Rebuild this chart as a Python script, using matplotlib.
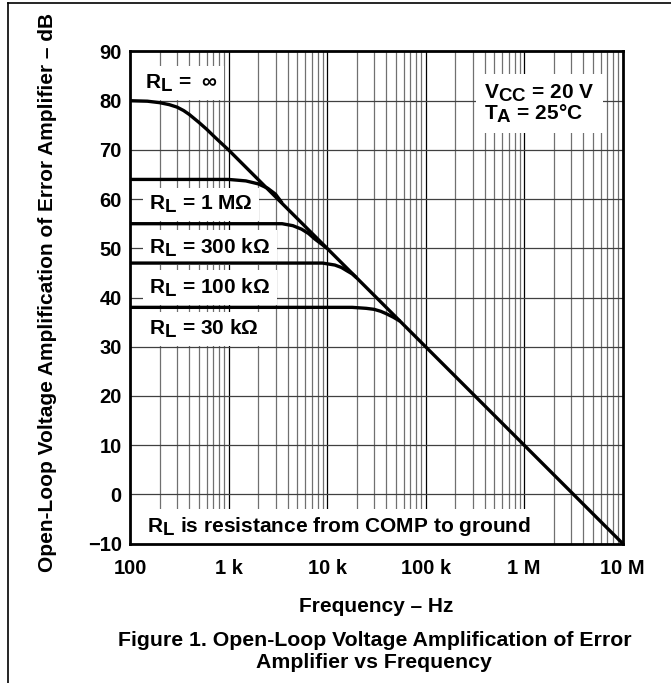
import matplotlib.pyplot as plt
import matplotlib._mathtext as mathtext_internal
from matplotlib.lines import Line2D
from matplotlib.ticker import FixedLocator, NullFormatter

plt.rcParams['font.family'] = ['Liberation Sans', 'DejaVu Sans']
plt.rcParams['font.weight'] = 'bold'
plt.rcParams['mathtext.default'] = 'regular'
# datasheet subscripts are nearly full size
mathtext_internal.SHRINK_FACTOR = 0.9

# curves (Hz, dB)
f_inf = [100, 150, 200, 250, 300, 350, 400, 500, 600, 700, 800, 1000, 1e7]
g_inf = [80, 79.9, 79.6, 79.2, 78.7, 78.0, 77.2, 75.6, 74.2, 72.9, 71.8, 70, -10]

f_1m = [100, 1000, 1500, 2000, 2500, 3000, 3500]
g_1m = [64, 64, 63.7, 63.1, 62.2, 61.0, 59.2]

f_300k = [100, 3500, 4500, 5500, 6500, 7500, 9000, 10000]
g_300k = [55, 55, 54.6, 53.9, 53.0, 51.9, 50.7, 50]

f_100k = [100, 9000, 12000, 14000, 16000, 18000, 20000]
g_100k = [47, 47, 46.6, 46.1, 45.4, 44.8, 44]

f_30k = [100, 18000, 25000, 30000, 35000, 40000, 47000, 55000]
g_30k = [38, 38, 37.8, 37.6, 37.2, 36.7, 36.0, 35.2]

xticks = [1e2, 1e3, 1e4, 1e5, 1e6, 1e7]
xticklabels = ['100', '1 k', '10 k', '100 k', '1 M', '10 M']
yticks = list(range(-10, 91, 10))
yticklabels = ['\u221210'] + [str(v) for v in range(0, 91, 10)]

fig = plt.figure(figsize=(6.71, 6.83), dpi=100)
ax = fig.add_axes([0.1937, 0.2042, 0.7343, 0.7204])
ax.set_xscale('log')
ax.set_xlim(100, 1e7)
ax.set_ylim(-10, 90)

# grid
minors = [m * 10**d for d in range(2, 7) for m in range(2, 10)]
for x in minors:
    ax.axvline(x, color='#707070', lw=0.9, zorder=1)
for x in xticks[1:-1]:
    ax.axvline(x, color='black', lw=0.9, zorder=1)
for y in yticks[1:-1]:
    ax.axhline(y, color='#404040', lw=0.9, zorder=1)

for f, g in [(f_inf, g_inf), (f_1m, g_1m), (f_300k, g_300k),
             (f_100k, g_100k), (f_30k, g_30k)]:
    ax.plot(f, g, color='black', lw=2.4, solid_capstyle='butt', zorder=4)

ax.xaxis.set_major_locator(FixedLocator(xticks))
ax.xaxis.set_minor_locator(FixedLocator(minors))
ax.xaxis.set_minor_formatter(NullFormatter())
ax.set_xticks(xticks)
ax.set_xticklabels(xticklabels)
ax.set_yticks(yticks)
ax.set_yticklabels(yticklabels)
ax.tick_params(axis='both', which='both', length=0, labelsize=14.5)
ax.tick_params(axis='x', pad=11)
ax.tick_params(axis='y', pad=6)
for s in ax.spines.values():
    s.set_linewidth(2)
    s.set_zorder(5)

box = dict(facecolor='white', edgecolor='none', boxstyle='square,pad=0.3')
lab = dict(fontsize=15, fontweight='bold', va='center', ha='left', bbox=box, zorder=3)
ax.text(142, 83.6, r'R$_{L}$ =  $\infty$', **lab)
ax.text(157, 58.9, r'R$_{L}$ = 1 M$\Omega$', **lab)
ax.text(157, 50.1, r'R$_{L}$ = 300 k$\Omega$', **lab)
ax.text(157, 42.0, r'R$_{L}$ = 100 k$\Omega$', **lab)
ax.text(157, 33.6, r'R$_{L}$ = 30 k$\Omega$', **lab)
ax.text(3.9e5, 79.4, 'V$_{CC}$ = 20 V\nT$_{A}$ = 25\u00b0C', fontsize=15, fontweight='bold',
        va='center', ha='left', linespacing=0.95,
        bbox=dict(facecolor='white', edgecolor='none', boxstyle='square,pad=0.4'), zorder=3)
ax.text(150, -6.6, r'R$_{L}$ is resistance from COMP to ground', **lab)

ax.set_xlabel('Frequency \u2013 Hz', fontsize=15, fontweight='bold')
ax.set_ylabel('Open-Loop Voltage Amplification of Error Amplifier \u2013 dB',
              fontsize=15, fontweight='bold')
ax.yaxis.set_label_coords(-0.148, 0.51)
ax.xaxis.set_label_coords(0.5, -0.108)

fig.text(0.558, 0.046, 'Figure 1. Open-Loop Voltage Amplification of Error\nAmplifier vs Frequency',
         ha='center', va='center', fontsize=15.3, fontweight='bold', linespacing=1.15)

# frame edges of the original page crop
fig.add_artist(Line2D([8 / 671, 8 / 671], [0, 1 - 3 / 683], color='black', lw=1.2))
fig.add_artist(Line2D([8 / 671, 1], [1 - 3 / 683, 1 - 3 / 683], color='black', lw=1.2))

fig.savefig('out.png', dpi=100)
